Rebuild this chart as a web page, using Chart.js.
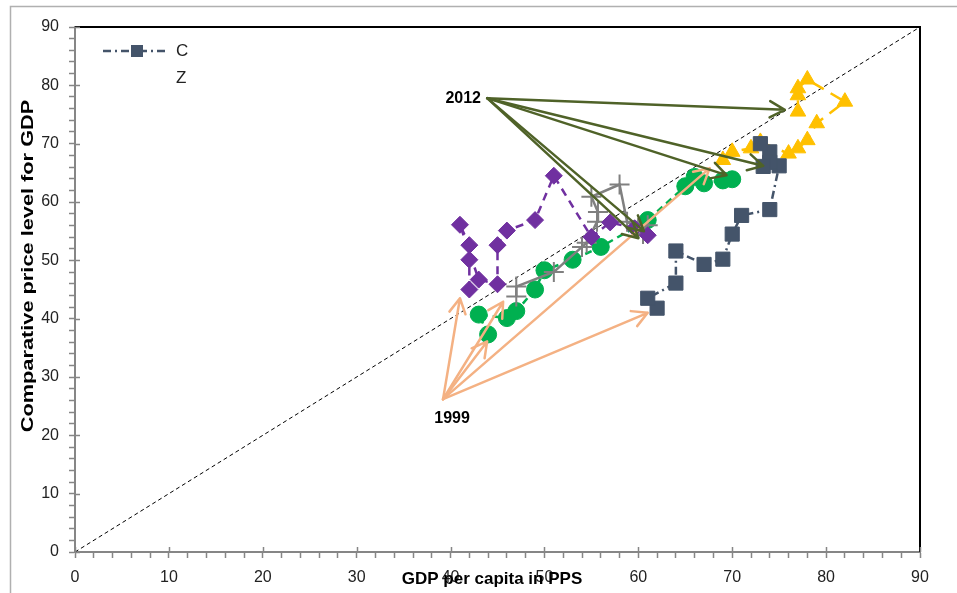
<!DOCTYPE html>
<html>
<head>
<meta charset="utf-8">
<script src="https://cdn.jsdelivr.net/npm/chart.js@4/dist/chart.umd.min.js"></script>
<style>
  html, body { margin: 0; padding: 0; background: #fff; }
</style>
</head>
<body>
<canvas id="priceChart" width="957" height="593"></canvas>
<script>
// Series values (x = GDP per capita in PPS, y = price level)
const cX = [62, 61, 64, 64, 67, 69, 70, 71, 74, 75, 74, 73, 74, 73.3];
const cY = [41.8, 43.5, 46.1, 51.6, 49.3, 50.2, 54.5, 57.7, 58.7, 66.2, 68.6, 70, 66.8, 66.1];

const purpleX = [42, 42, 42, 41, 43, 45, 45, 46, 49, 51, 55, 57, 59.6, 61];
const purpleY = [45.0, 50.1, 52.6, 56.1, 46.7, 45.9, 52.6, 55.1, 56.9, 64.5, 54.0, 56.5, 55.5, 54.3];

const greyX = [47, 47, 51, 54, 54.5, 55.6, 55.7, 55, 58, 58.8, 60, 61, 60.5, 60];
const greyY = [43.8, 45.5, 48, 52.3, 53, 56.6, 58.3, 60.9, 63, 56.6, 55.5, 56, 54.5, 55.5];

const greenX = [44, 43, 46, 47, 49, 50, 53, 56, 61, 65, 66, 67, 69, 70];
const greenY = [37.3, 40.7, 40.1, 41.3, 45.0, 48.3, 50.1, 52.3, 56.9, 62.7, 64.3, 63.2, 63.7, 63.9];

const yellowX = [69, 70, 72, 73, 76, 77, 78, 79, 82, 78, 77, 77, 77];
const yellowY = [67.2, 68.6, 69.2, 70.3, 68.3, 69.2, 70.6, 73.5, 77.2, 81.0, 79.5, 78.3, 75.5];

const diagX = [0, 90];
const diagY = [0, 90];

const legendNames = ['C', 'Z'];

// annotation arrows: start point and end points (data units)
const from1999 = [39.2, 26.2];
const to1999X = [41, 45.6, 43.9, 67.6, 61];
const to1999Y = [43.5, 42.9, 36.1, 65.8, 41];
const from2012 = [43.9, 77.8];
const to2012X = [75.6, 73.3, 69.4, 60, 60.6];
const to2012Y = [75.8, 66.2, 64.6, 53.8, 55];

const xTicksMajor = [0, 10, 20, 30, 40, 50, 60, 70, 80, 90];
const yTicksMajor = [0, 10, 20, 30, 40, 50, 60, 70, 80, 90];

function pts(xs, ys) {
  return xs.map((x, i) => ({ x: x, y: ys[i] }));
}

const FONT = "'Liberation Sans', Arial, sans-serif";

function drawArrow(ctx, x1, y1, x2, y2, color, w) {
  const a = Math.atan2(y2 - y1, x2 - x1);
  const h = 17, s = 0.5;
  ctx.save();
  ctx.strokeStyle = color;
  ctx.lineWidth = w;
  ctx.lineCap = 'round';
  ctx.lineJoin = 'round';
  ctx.beginPath();
  ctx.moveTo(x1, y1);
  ctx.lineTo(x2, y2);
  ctx.moveTo(x2 - h * Math.cos(a - s), y2 - h * Math.sin(a - s));
  ctx.lineTo(x2, y2);
  ctx.lineTo(x2 - h * Math.cos(a + s), y2 - h * Math.sin(a + s));
  ctx.stroke();
  ctx.restore();
}

const decor = {
  id: 'decor',
  beforeDraw(chart) {
    const ctx = chart.ctx;
    ctx.save();
    ctx.fillStyle = '#fff';
    ctx.fillRect(0, 0, chart.width, chart.height);
    // outer chart frame (cut off at right/bottom)
    ctx.strokeStyle = '#b0b0b0';
    ctx.lineWidth = 1.5;
    ctx.strokeRect(10.5, 6.5, 1200, 1200);
    ctx.restore();
  },
  afterDatasetsDraw(chart) {
    const ctx = chart.ctx;
    const xs = chart.scales.x, ys = chart.scales.y;
    const sx = xs.getPixelForValue(from1999[0]), sy = ys.getPixelForValue(from1999[1]);
    to1999X.forEach((x, i) => {
      drawArrow(ctx, sx, sy, xs.getPixelForValue(x), ys.getPixelForValue(to1999Y[i]), '#F4B183', 2.5);
    });
    const tx = xs.getPixelForValue(from2012[0]), ty = ys.getPixelForValue(from2012[1]);
    to2012X.forEach((x, i) => {
      drawArrow(ctx, tx, ty, xs.getPixelForValue(x), ys.getPixelForValue(to2012Y[i]), '#4F6228', 2.5);
    });
  },
  afterDraw(chart) {
    const ctx = chart.ctx;
    const a = chart.chartArea;
    const xs = chart.scales.x, ys = chart.scales.y;
    ctx.save();
    // top and right plot border
    ctx.strokeStyle = '#000';
    ctx.lineWidth = 2;
    ctx.beginPath();
    ctx.moveTo(a.left, a.top);
    ctx.lineTo(a.right, a.top);
    ctx.lineTo(a.right, a.bottom);
    ctx.stroke();

    // inner half of major ticks
    ctx.strokeStyle = '#868686';
    ctx.lineWidth = 1.5;
    ctx.beginPath();
    xTicksMajor.forEach(v => {
      const p = Math.round(xs.getPixelForValue(v)) + 0.5;
      ctx.moveTo(p, a.bottom);
      ctx.lineTo(p, a.bottom - 5);
    });
    yTicksMajor.forEach(v => {
      const p = Math.round(ys.getPixelForValue(v)) + 0.5;
      ctx.moveTo(a.left, p);
      ctx.lineTo(a.left + 5, p);
    });
    ctx.stroke();

    // legend
    const lx = 103, ly = 51;
    ctx.strokeStyle = '#44546A';
    ctx.lineWidth = 2.5;
    ctx.setLineDash([8, 4, 2, 4]);
    ctx.beginPath();
    ctx.moveTo(lx, ly);
    ctx.lineTo(lx + 65, ly);
    ctx.stroke();
    ctx.setLineDash([]);
    ctx.fillStyle = '#44546A';
    ctx.fillRect(lx + 28, ly - 6, 12, 12);
    ctx.fillStyle = '#222';
    ctx.font = '17px ' + FONT;
    ctx.textAlign = 'left';
    ctx.textBaseline = 'middle';
    ctx.fillText(legendNames[0], 176, ly);
    ctx.fillText(legendNames[1], 176, ly + 27);

    // year labels next to arrow origins
    ctx.fillStyle = '#000';
    ctx.font = 'bold 16px ' + FONT;
    ctx.textAlign = 'center';
    ctx.fillText('1999', xs.getPixelForValue(from1999[0]) + 9, ys.getPixelForValue(from1999[1]) + 19);
    ctx.fillText('2012', xs.getPixelForValue(from2012[0]) - 24, ys.getPixelForValue(from2012[1]));

    // axis titles (overlapping the tick labels, as in the original)
    ctx.font = 'bold 17px ' + FONT;
    ctx.fillText('GDP per capita in PPS', 492, 579);
    ctx.translate(28, 266);
    ctx.rotate(-Math.PI / 2);
    ctx.scale(1.28, 1);
    ctx.fillText('Comparative price level for GDP', 0, 0);
    ctx.restore();
  }
};

const ctx = document.getElementById('priceChart').getContext('2d');
new Chart(ctx, {
  type: 'scatter',
  data: {
    datasets: [
      {
        label: 'C',
        data: pts(cX, cY),
        showLine: true,
        borderColor: '#44546A',
        backgroundColor: '#44546A',
        borderWidth: 2.5,
        borderDash: [8, 4, 2, 4],
        pointStyle: 'rect',
        pointRadius: 10,
        pointBorderWidth: 1,
      },
      {
        label: 'Z',
        data: [],
        showLine: true,
      },
      {
        label: 'purple',
        data: pts(purpleX, purpleY),
        showLine: true,
        borderColor: '#7030A0',
        backgroundColor: '#7030A0',
        borderWidth: 2.5,
        borderDash: [8, 6],
        pointStyle: 'rectRot',
        pointRadius: 8.5,
        pointBorderWidth: 1,
      },
      {
        label: 'grey',
        data: pts(greyX, greyY),
        showLine: true,
        borderColor: '#808080',
        backgroundColor: '#808080',
        borderWidth: 2.5,
        pointStyle: 'cross',
        pointRadius: 10,
        pointBorderWidth: 2,
      },
      {
        label: 'green',
        data: pts(greenX, greenY),
        showLine: true,
        borderColor: '#00B050',
        backgroundColor: '#00B050',
        borderWidth: 2.5,
        borderDash: [7, 5],
        pointStyle: 'circle',
        pointRadius: 8.5,
        pointBorderWidth: 1,
      },
      {
        label: 'yellow',
        data: pts(yellowX, yellowY),
        showLine: true,
        borderColor: '#FFC000',
        backgroundColor: '#FFC000',
        borderWidth: 2.5,
        borderDash: [14, 8],
        pointStyle: 'triangle',
        pointRadius: 9,
        pointBorderWidth: 1,
      },
      {
        label: 'diagonal',
        data: pts(diagX, diagY),
        showLine: true,
        borderColor: '#000',
        borderWidth: 1,
        borderDash: [4, 3],
        pointRadius: 0,
      },
    ],
  },
  options: {
    responsive: false,
    animation: false,
    devicePixelRatio: 1,
    layout: { padding: { left: 0, top: 27, right: 37, bottom: 0 } },
    plugins: {
      legend: { display: false },
      tooltip: { enabled: false },
    },
    scales: {
      x: {
        type: 'linear',
        min: 0,
        max: 90,
        afterFit: function (scale) { scale.height = 41; },
        ticks: {
          stepSize: 2,
          autoSkip: false,
          maxRotation: 0,
          padding: 10,
          color: '#222',
          font: { family: FONT, size: 16 },
          callback: function (v) { return v % 10 === 0 ? v : ''; },
        },
        grid: {
          drawOnChartArea: false,
          tickLength: 6,
          tickColor: '#868686',
          tickWidth: 1.5,
        },
        border: { color: '#868686', width: 2 },
      },
      y: {
        type: 'linear',
        min: 0,
        max: 90,
        afterFit: function (scale) { scale.width = 75; },
        ticks: {
          stepSize: 2,
          autoSkip: false,
          padding: 10,
          color: '#222',
          font: { family: FONT, size: 16 },
          callback: function (v) { return v % 10 === 0 ? v : ''; },
        },
        grid: {
          drawOnChartArea: false,
          tickLength: 6,
          tickColor: '#868686',
          tickWidth: 1.5,
        },
        border: { color: '#868686', width: 2 },
      },
    },
  },
  plugins: [decor],
});
</script>
</body>
</html>
